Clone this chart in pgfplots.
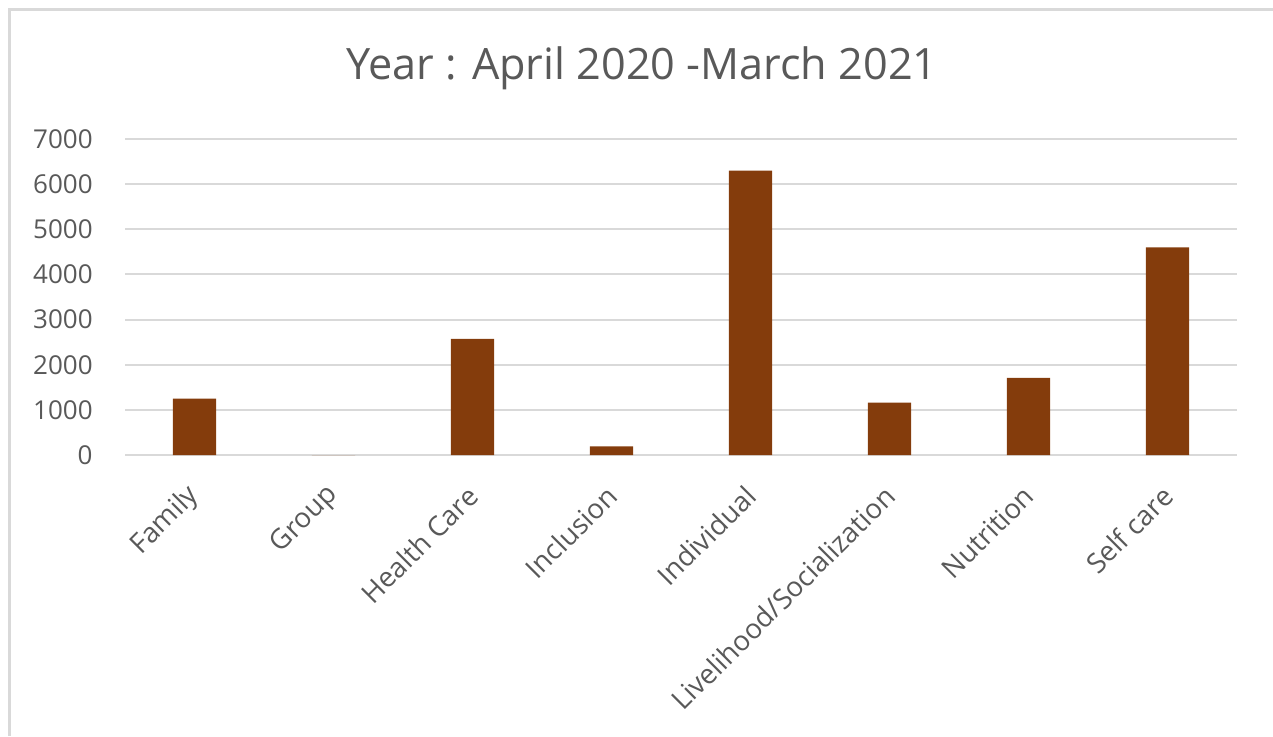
\documentclass[border=0pt]{standalone}
\usepackage{pgfplots}
\pgfplotsset{compat=1.18}
\usepackage{fontspec}
\setmainfont{Open Sans}
\definecolor{barc}{HTML}{843C0C}
\definecolor{gridc}{HTML}{D9D9D9}
\definecolor{txtc}{HTML}{595959}
\definecolor{framec}{HTML}{D9D9D9}
\begin{document}
\begin{tikzpicture}
\useasboundingbox (0,0) rectangle (636.5pt,368pt);
\draw[framec, line width=1.5pt] (4.5pt,0) -- (4.5pt,363.5pt) -- (636.5pt,363.5pt);
\node[txtc, font=\fontsize{21.6}{26}\selectfont] at (321pt,334pt) {Year : April 2020 -March 2021};
\begin{axis}[
  at={(62.5pt,140.5pt)}, anchor=south west,
  scale only axis, width=556pt, height=158pt,
  xmin=-0.5, xmax=7.5, ymin=0, ymax=7000,
  ytick={0,1000,...,7000},
  xtick={0,...,7},
  xticklabels={Family,Group,Health Care,Inclusion,Individual,Livelihood/Socialization,Nutrition,Self care},
  axis line style={draw=none},
  major tick length=0pt,
  ymajorgrids, grid style={gridc, line width=1pt},
  /pgf/number format/1000 sep={},
  /pgf/number format/assume math mode=true,
  ticklabel style={txtc, font=\fontsize{13}{16}\selectfont, inner sep=0pt},
  yticklabel style={anchor=east, xshift=-16pt},
  xticklabel style={font=\fontsize{13.8}{16}\selectfont, xshift=0.25pt, yshift=-18pt, rotate=45, anchor=east},
]
\addplot[ybar, bar width=0.31, fill=barc, draw=none] coordinates {
  (0,1250) (1,0) (2,2570) (3,190) (4,6300) (5,1160) (6,1710) (7,4600)
};
\end{axis}
\end{tikzpicture}
\end{document}
